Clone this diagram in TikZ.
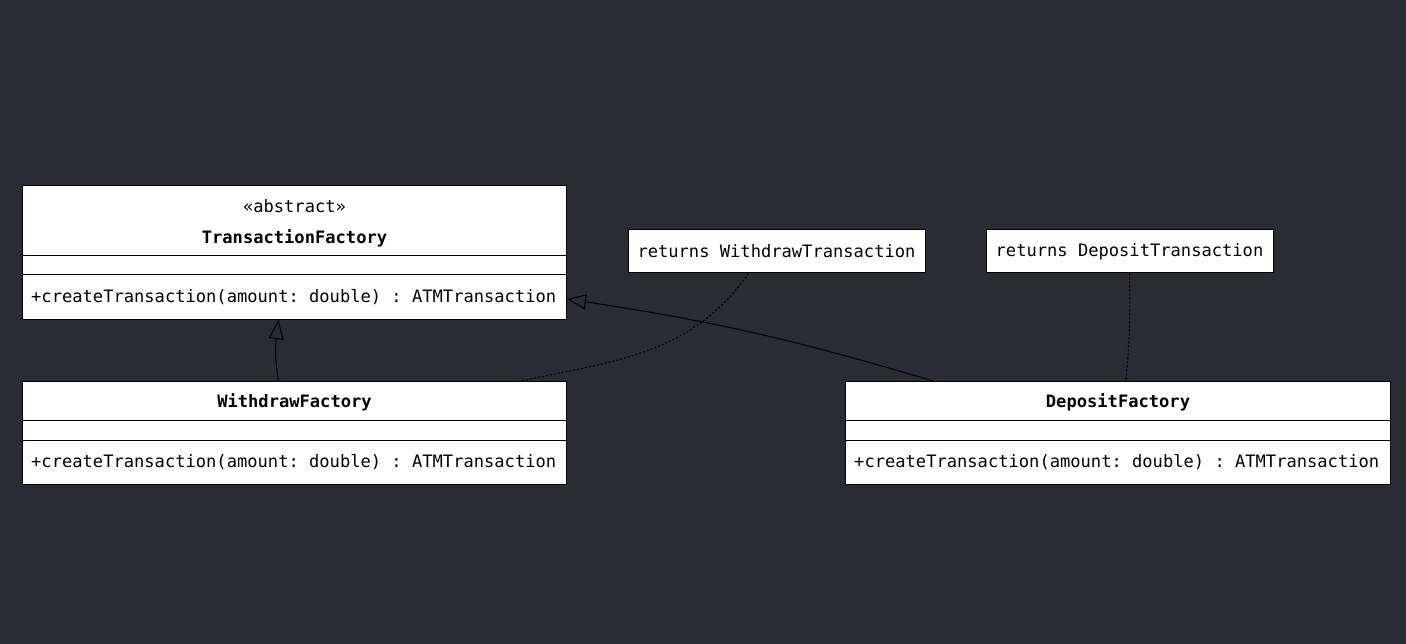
\documentclass[tikz,border=0pt]{standalone}
\usepackage{fontspec}
\setmonofont{DejaVu Sans Mono}
\usepackage{tikz}
\usetikzlibrary{arrows.meta,calc}
\definecolor{bgcol}{RGB}{42,44,51}

\begin{document}
\begin{tikzpicture}[x=1pt,y=1pt,
		classbox/.style={draw=black,fill=white,line width=1pt,inner sep=0pt,anchor=north west},
		notebox/.style={draw=black,fill=white,line width=1pt,inner sep=0pt,minimum height=43pt,font=\ttfamily\fontsize{17.1}{20}\selectfont},
		txt/.style={inner sep=0pt,font=\ttfamily\fontsize{17.1}{20}\selectfont},
		inherit/.style={-{Triangle[open,length=19pt,width=15pt]},line width=1pt,black},
		notelink/.style={line width=1.1pt,black,dash pattern=on 2pt off 2pt}]
		\fill[bgcol] (0,0) rectangle (1406,644);
		\useasboundingbox (0,0) rectangle (1406,644);
		% classes
		\node[classbox,minimum width=544pt,minimum height=134pt] (TF) at (22,459) {};
		\node[classbox,minimum width=544pt,minimum height=103pt] (WF) at (22,263) {};
		\node[classbox,minimum width=545pt,minimum height=103pt] (DF) at (845,263) {};
		\draw ([yshift=-70pt]TF.north west) -- ([yshift=-70pt]TF.north east);
		\draw ([yshift=-89pt]TF.north west) -- ([yshift=-89pt]TF.north east);
		\draw ([yshift=-39pt]WF.north west) -- ([yshift=-39pt]WF.north east);
		\draw ([yshift=-59pt]WF.north west) -- ([yshift=-59pt]WF.north east);
		\draw ([yshift=-39pt]DF.north west) -- ([yshift=-39pt]DF.north east);
		\draw ([yshift=-59pt]DF.north west) -- ([yshift=-59pt]DF.north east);
		\node[txt] (TFstereo) at ([yshift=-21pt]TF.north) {«abstract»};
		\node[txt] (TFname) at ([yshift=-53pt]TF.north) {\bfseries TransactionFactory};
		\node[txt,anchor=west] (TFop) at ([xshift=9pt,yshift=-112pt]TF.north west) {+createTransaction(amount: double) : ATMTransaction};
		\node[txt] (WFname) at ([yshift=-21.5pt]WF.north) {\bfseries WithdrawFactory};
		\node[txt,anchor=west] (WFop) at ([xshift=9pt,yshift=-81pt]WF.north west) {+createTransaction(amount: double) : ATMTransaction};
		\node[txt] (DFname) at ([yshift=-21.5pt]DF.north) {\bfseries DepositFactory};
		\node[txt,anchor=west] (DFop) at ([xshift=9pt,yshift=-81pt]DF.north west) {+createTransaction(amount: double) : ATMTransaction};
		% notes
		\node[notebox,minimum width=297pt] (N1) at (776.5,392.5) {returns WithdrawTransaction};
		\node[notebox,minimum width=287pt] (N2) at (1129.5,392.5) {returns DepositTransaction};
		% links
		\draw[inherit] ([xshift=-16pt]WF.north) to[out=100,in=-97] ([xshift=-16pt]TF.south);
		\draw[inherit] ([xshift=88pt]DF.north west) to[bend right=4] ([yshift=21pt]TF.south east);
		\draw[notelink] ([xshift=-28pt]N1.south) to[out=-125,in=12] ([xshift=-46pt]WF.north east);
		\draw[notelink] (N2.south) to[bend left=3] ([xshift=8pt]DF.north);
	\end{tikzpicture}
\end{document}
